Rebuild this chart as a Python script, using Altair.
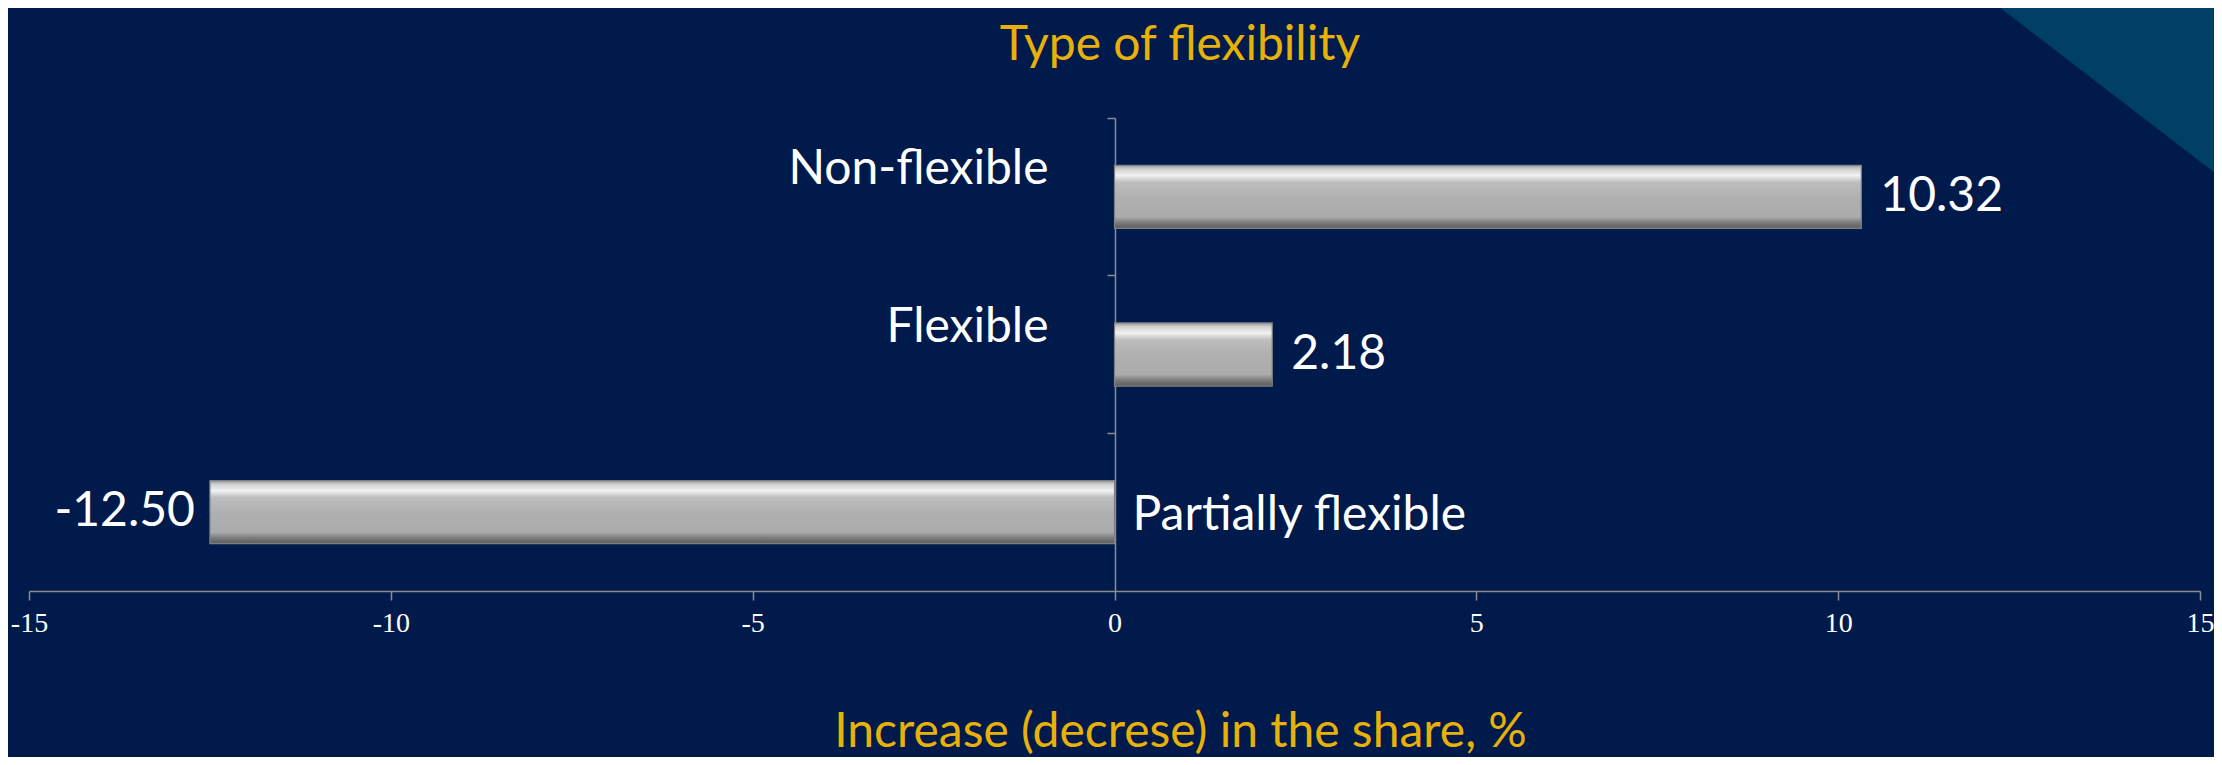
import altair as alt
import pandas as pd

categories = ["Non-flexible", "Flexible", "Partially flexible"]
values = [10.32, 2.18, -12.50]
x_ticks = [-15, -10, -5, 0, 5, 10, 15]

df = pd.DataFrame({"category": categories, "value": values})

BG = "#001A4C"
GOLD = "#E8B10A"
AXIS_GRAY = "#8C8C8C"
FONT = "Lato"
FS = 48

x_scale = alt.Scale(domain=[-15, 15], nice=False, zero=False)
y_scale = alt.Scale(domain=categories, paddingInner=0, paddingOuter=0)

base = alt.Chart(df)

bar_gradient = alt.Gradient(
    gradient="linear",
    x1=0, x2=0, y1=0, y2=1,
    stops=[
        alt.GradientStop(offset=0.0, color="#9a9a9a"),
        alt.GradientStop(offset=0.06, color="#d0d0d0"),
        alt.GradientStop(offset=0.16, color="#f2f2f2"),
        alt.GradientStop(offset=0.27, color="#bdbdbd"),
        alt.GradientStop(offset=0.5, color="#b0b0b0"),
        alt.GradientStop(offset=0.82, color="#ababab"),
        alt.GradientStop(offset=0.92, color="#767676"),
        alt.GradientStop(offset=1.0, color="#5c5c5c"),
    ],
)

num_label = "replace(format(datum.value, '.2f'), '\u2212', '-')"

bars = base.mark_bar(
    color=bar_gradient, stroke="#808080", strokeWidth=1.2,
    height=alt.RelativeBandSize(0.4),
).encode(
    x=alt.X(
        "value:Q",
        scale=x_scale,
        axis=alt.Axis(
            values=x_ticks,
            labelExpr="'' + datum.value",
            title="Increase (decrese) in the share, %",
            titleColor=GOLD,
            titleFont=FONT,
            titleFontSize=FS,
            titleFontWeight="normal",
            titleX=1151,
            titleY=155,
            titleAlign="center",
            titleBaseline="alphabetic",
            labelFont="Liberation Serif",
            labelFontSize=28,
            labelColor="white",
            labelPadding=9,
            labelFlush=False,
            domainColor=AXIS_GRAY,
            domainWidth=1.5,
            tickColor=AXIS_GRAY,
            tickSize=9,
            tickWidth=1.5,
            grid=False,
        ),
    ),
    x2=alt.datum(0),
    y=alt.Y(
        "category:N",
        scale=y_scale,
        sort=categories,
        axis=alt.Axis(
            labels=False,
            title=None,
            offset=-1086,
            bandPosition=0,
            domainColor=AXIS_GRAY,
            domainWidth=1.5,
            tickColor=AXIS_GRAY,
            tickSize=8,
            tickWidth=1.5,
            grid=False,
        ),
    ),
)

val_pos = base.transform_filter("datum.value >= 0").transform_calculate(
    label=num_label
).mark_text(align="left", baseline="middle", dx=19, font=FONT, fontSize=FS, color="white").encode(
    x=alt.X("value:Q", scale=x_scale),
    y=alt.Y("category:N", scale=y_scale, sort=categories),
    text="label:N",
)

val_neg = base.transform_filter("datum.value < 0").transform_calculate(
    label=num_label
).mark_text(align="right", baseline="middle", dx=-15, font=FONT, fontSize=FS, color="white").encode(
    x=alt.X("value:Q", scale=x_scale),
    y=alt.Y("category:N", scale=y_scale, sort=categories),
    text="label:N",
)

cat_pos = base.transform_filter("datum.value >= 0").mark_text(
    align="right", baseline="middle", dx=-66, dy=-27, font=FONT, fontSize=FS, color="white"
).encode(
    x=alt.datum(0),
    y=alt.Y("category:N", scale=y_scale, sort=categories),
    text="category:N",
)

cat_neg = base.transform_filter("datum.value < 0").mark_text(
    align="left", baseline="middle", dx=18, dy=4, font=FONT, fontSize=FS, color="white"
).encode(
    x=alt.datum(0),
    y=alt.Y("category:N", scale=y_scale, sort=categories),
    text="category:N",
)

deco = alt.Chart(pd.DataFrame({"t": ["Type of flexibility"]}))

# decorative corner triangle (slide background)
corner = deco.mark_point(
    shape="M -0.835 -0.64 L 1.2 -0.64 L 1.2 0.925 Z",
    size=160000,
    filled=True,
    fill="#003F66",
    opacity=1,
    strokeWidth=0,
    clip=False,
).encode(x=alt.value(2128), y=alt.value(10))

title = deco.mark_text(
    align="center", baseline="alphabetic", font=FONT, fontSize=FS, color=GOLD
).encode(x=alt.value(1151), y=alt.value(-58), text="t:N")

chart = alt.layer(corner, bars, val_pos, val_neg, cat_pos, cat_neg, title).properties(
    width=2171,
    height=473,
    background=BG,
    padding={"left": 21, "top": 110, "right": 14, "bottom": 166},
    autosize=alt.AutoSizeParams(type="none"),
).configure_view(stroke=None)

chart.save("out.html", embed_options={"renderer": "svg", "actions": False})
